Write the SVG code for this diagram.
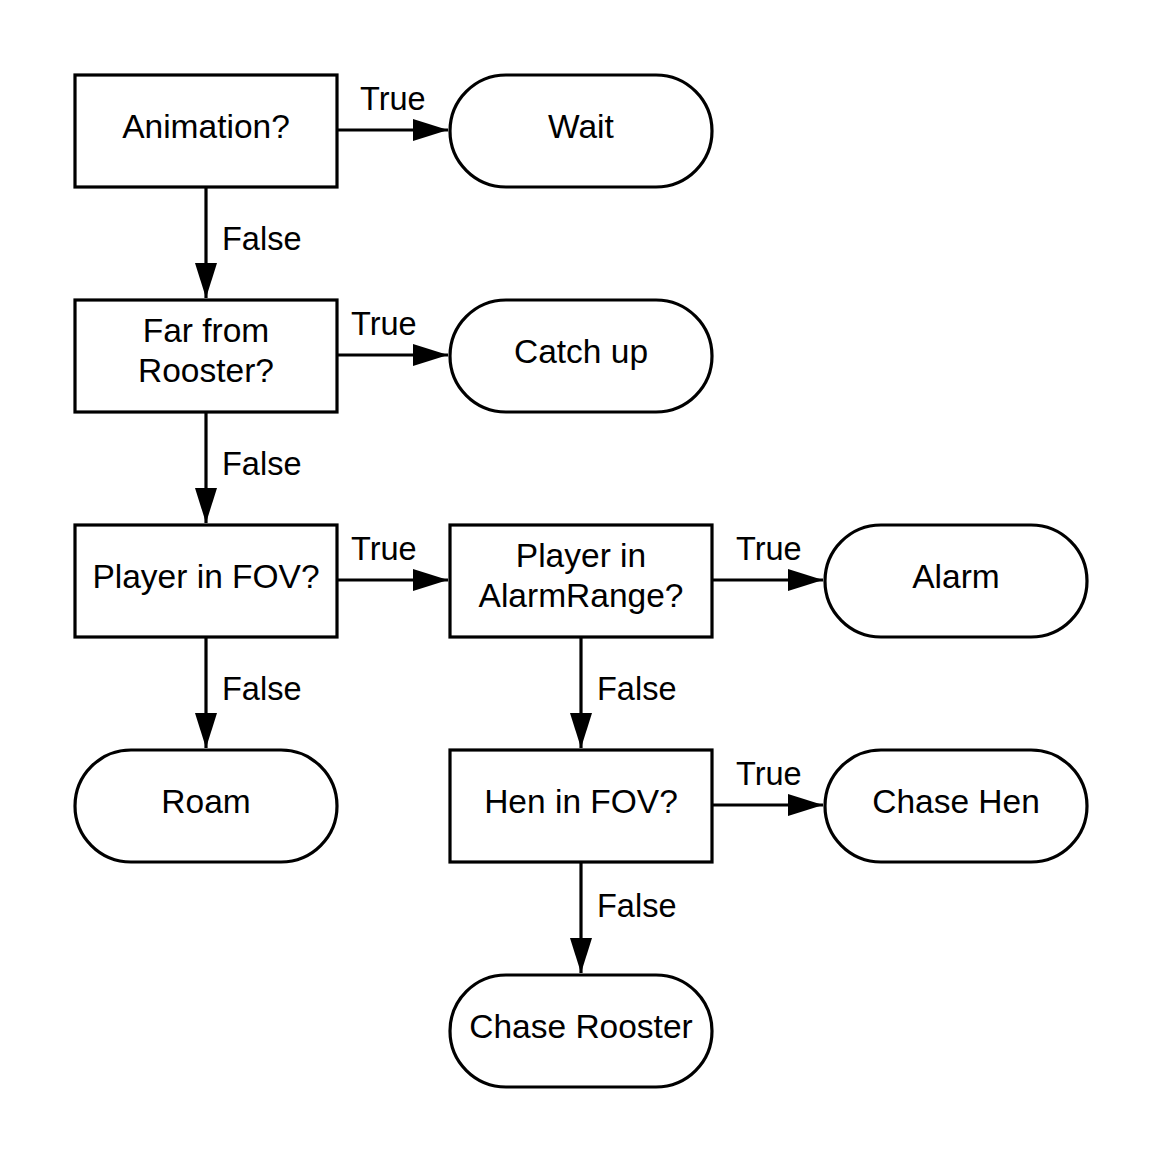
<svg xmlns="http://www.w3.org/2000/svg" width="1163" height="1163" viewBox="0 0 1163 1163">
<defs>
<style>
.box{fill:#fff;stroke:#000;stroke-width:3.2}
.t{font-family:"Liberation Sans",Arial,sans-serif;font-size:33.5px;fill:#000;text-anchor:middle}
.lbl{font-family:"Liberation Sans",Arial,sans-serif;font-size:32.5px;fill:#000}
.c{stroke:#000;stroke-width:3.2;fill:none;marker-end:url(#ah)}
</style>
<marker id="ah" markerUnits="userSpaceOnUse" markerWidth="36" markerHeight="24" refX="35" refY="11" orient="auto">
<path d="M0,0 L35,11 L0,22 Z" fill="#000"/>
</marker>
</defs>
<rect width="1163" height="1163" fill="#fff"/>
<g id="connectors">
<path class="c" d="M337,130 H448"/>
<path class="c" d="M337,355 H448"/>
<path class="c" d="M337,580 H448"/>
<path class="c" d="M712,580 H823"/>
<path class="c" d="M712,805 H823"/>
<path class="c" d="M206,187 V298"/>
<path class="c" d="M206,412 V523"/>
<path class="c" d="M206,637 V748"/>
<path class="c" d="M581,637 V748"/>
<path class="c" d="M581,862 V973"/>
<text class="lbl" x="360" y="110">True</text>
<text class="lbl" x="351" y="335">True</text>
<text class="lbl" x="351" y="560">True</text>
<text class="lbl" x="736" y="560">True</text>
<text class="lbl" x="736" y="785">True</text>
<text class="lbl" x="222" y="250">False</text>
<text class="lbl" x="222" y="475">False</text>
<text class="lbl" x="222" y="700">False</text>
<text class="lbl" x="597" y="700">False</text>
<text class="lbl" x="597" y="917">False</text>
</g>
<g id="n-animation"><rect class="box" x="75" y="75" width="262" height="112"/><text class="t" x="206" y="138">Animation?</text></g>
<g id="n-wait"><rect class="box" x="450" y="75" width="262" height="112" rx="56"/><text class="t" x="581" y="138">Wait</text></g>
<g id="n-far"><rect class="box" x="75" y="300" width="262" height="112"/><text class="t" x="206" y="342">Far from</text><text class="t" x="206" y="382">Rooster?</text></g>
<g id="n-catchup"><rect class="box" x="450" y="300" width="262" height="112" rx="56"/><text class="t" x="581" y="363">Catch up</text></g>
<g id="n-playerfov"><rect class="box" x="75" y="525" width="262" height="112"/><text class="t" x="206" y="588">Player in FOV?</text></g>
<g id="n-alarmrange"><rect class="box" x="450" y="525" width="262" height="112"/><text class="t" x="581" y="567">Player in</text><text class="t" x="581" y="607">AlarmRange?</text></g>
<g id="n-alarm"><rect class="box" x="825" y="525" width="262" height="112" rx="56"/><text class="t" x="956" y="588">Alarm</text></g>
<g id="n-roam"><rect class="box" x="75" y="750" width="262" height="112" rx="56"/><text class="t" x="206" y="813">Roam</text></g>
<g id="n-henfov"><rect class="box" x="450" y="750" width="262" height="112"/><text class="t" x="581" y="813">Hen in FOV?</text></g>
<g id="n-chasehen"><rect class="box" x="825" y="750" width="262" height="112" rx="56"/><text class="t" x="956" y="813">Chase Hen</text></g>
<g id="n-chaserooster"><rect class="box" x="450" y="975" width="262" height="112" rx="56"/><text class="t" x="581" y="1038">Chase Rooster</text></g>
</svg>
